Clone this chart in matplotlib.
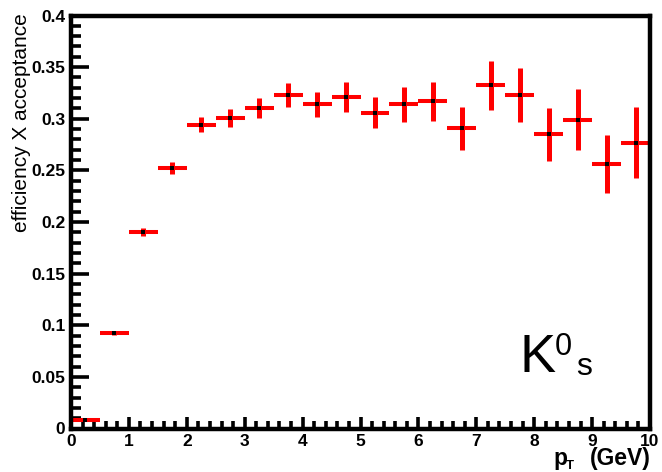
import matplotlib
matplotlib.use("Agg")
import matplotlib.pyplot as plt
from matplotlib.ticker import MultipleLocator, FuncFormatter

plt.rcParams['font.family'] = ['Liberation Sans', 'DejaVu Sans']

# ---- data ----
pt_centers = [0.25, 0.75, 1.25, 1.75, 2.25, 2.75, 3.25, 3.75, 4.25, 4.75,
              5.25, 5.75, 6.25, 6.75, 7.25, 7.75, 8.25, 8.75, 9.25, 9.75]
pt_halfwidth = [0.25] * 20
efficiency = [0.0087, 0.0922, 0.1906, 0.252, 0.294, 0.3004, 0.310, 0.323, 0.314, 0.3214,
              0.3056, 0.314, 0.317, 0.2907, 0.3324, 0.3233, 0.285, 0.299, 0.256, 0.2768]
eff_err = [0.001, 0.0015, 0.004, 0.0058, 0.0073, 0.0087, 0.0097, 0.0116, 0.0123, 0.0145,
           0.015, 0.017, 0.019, 0.0205, 0.024, 0.026, 0.0255, 0.0297, 0.028, 0.0345]
x_ticks = [0, 1, 2, 3, 4, 5, 6, 7, 8, 9, 10]
y_ticks = [0, 0.05, 0.1, 0.15, 0.2, 0.25, 0.3, 0.35, 0.4]

W, H = 662, 472
fig = plt.figure(figsize=(W / 100, H / 100), dpi=100)
L, R, T, B = 71, 650, 15.5, 428.5
ax = fig.add_axes([L / W, 1 - B / H, (R - L) / W, (B - T) / H])

# horizontal (bin width) bars
ax.errorbar(pt_centers, efficiency, xerr=pt_halfwidth, fmt='none',
            ecolor='#ff0000', elinewidth=2.9, capsize=0, zorder=2)
# vertical error bars
ax.errorbar(pt_centers, efficiency, yerr=eff_err, fmt='none',
            ecolor='#ff0000', elinewidth=3.6, capsize=0, zorder=2)
# markers
ax.plot(pt_centers, efficiency, 's', color='black', ms=3.4, mew=0, zorder=3)

ax.set_xlim(0, 10)
ax.set_ylim(0, 0.4)
ax.set_xticks(x_ticks)
ax.set_yticks(y_ticks)
ax.xaxis.set_minor_locator(MultipleLocator(0.2))
ax.yaxis.set_minor_locator(MultipleLocator(0.01))
ax.yaxis.set_major_formatter(FuncFormatter(lambda v, p: f"{v:g}"))
ax.xaxis.set_major_formatter(FuncFormatter(lambda v, p: f"{v:g}"))

for s in ax.spines.values():
    s.set_linewidth(3.2)

ax.tick_params(axis='both', which='both', direction='in', top=False, right=False,
               width=2.6, color='black')
ax.tick_params(axis='y', which='major', length=13, pad=4)
ax.tick_params(axis='y', which='minor', length=7.2)
ax.tick_params(axis='x', which='major', length=8.6, pad=4)
ax.tick_params(axis='x', which='minor', length=5.8)
for lab in ax.get_xticklabels() + ax.get_yticklabels():
    lab.set_fontsize(12.5)
    lab.set_fontweight('bold')

# axis titles
fig.text(22 / W, 1 - 13 / H, "efficiency X acceptance", rotation=90,
         ha='center', va='top', fontsize=15)
fig.text(553 / W, 1 - 465 / H, "p", ha='left', va='baseline',
         fontsize=16.5, fontweight='bold')
fig.text(566 / W, 1 - 469 / H, "T", ha='left', va='baseline',
         fontsize=9.5, fontweight='bold')
fig.text(651 / W, 1 - 465 / H, "(GeV)", ha='right', va='baseline',
         fontsize=16.5, fontweight='bold')

# K0s label
fig.text(519 / W, 1 - 372 / H, "K", ha='left', va='baseline', fontsize=39)
fig.text(555 / W, 1 - 355 / H, "0", ha='left', va='baseline', fontsize=22)
fig.text(576 / W, 1 - 375 / H, "s", ha='left', va='baseline', fontsize=23)

fig.savefig("out.png", dpi=100, facecolor='white')
